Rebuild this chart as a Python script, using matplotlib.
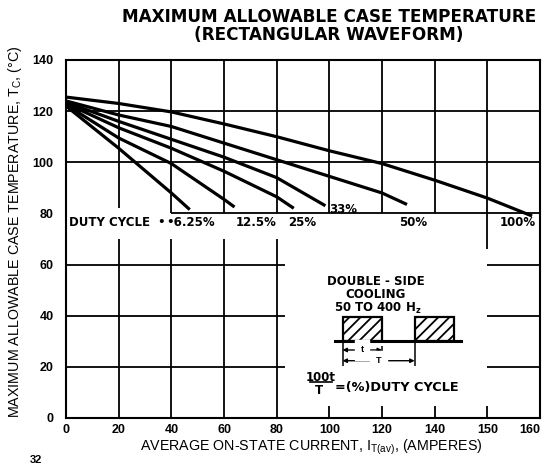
import matplotlib.pyplot as plt
from matplotlib.patches import Rectangle

plt.rcParams['font.family'] = ['Liberation Sans', 'DejaVu Sans']
plt.rcParams['hatch.linewidth'] = 1.3
plt.rcParams['hatch.color'] = 'black'

# x axis ticks as printed on the sheet
x_ticks = [0, 20, 40, 60, 80, 100, 120, 140, 160, 180]
x_labels = ["0", "20", "40", "60", "80", "100", "120", "140", "150", "160"]
y_ticks = [0, 20, 40, 60, 80, 100, 120, 140]

# curves: current (A) vs case temperature (C)
i_625 = [0, 20, 40, 47]
t_625 = [122, 105.5, 88, 81.5]
i_125 = [0, 20, 40, 60, 64]
t_125 = [122.5, 109.5, 99.5, 85.5, 82.5]
i_25 = [0, 20, 40, 60, 80, 86.5]
t_25 = [123, 113.5, 105.5, 96.5, 86.5, 82]
i_33 = [0, 20, 40, 60, 80, 98.5]
t_33 = [123.5, 116, 109, 102, 94, 83]
i_50 = [0, 20, 40, 60, 80, 100, 120, 129.5]
t_50 = [124, 118.5, 114, 107.5, 101, 94.5, 88, 83.5]
i_100 = [0, 20, 40, 60, 80, 100, 120, 140, 160, 177]
t_100 = [125.5, 123, 119.7, 115, 110, 104.5, 99.5, 93, 86, 79]

BOLD = ['DejaVu Sans']

fig = plt.figure(figsize=(5.48, 4.66), dpi=100)
ax = fig.add_axes([66/548, 48/466, 474/548, 358/466])
ax.set_xlim(0, 180)
ax.set_ylim(0, 140)
for s in ax.spines.values():
    s.set_linewidth(1.5)

ax.set_xticks(x_ticks)
ax.set_xticklabels(x_labels, fontweight='bold', fontsize=9)
ax.get_xticklabels()[-1].set_horizontalalignment('right')
ax.set_yticks(y_ticks)
ax.set_yticklabels([str(v) for v in y_ticks], fontweight='bold', fontsize=9)
ax.tick_params(axis='both', length=0)
ax.tick_params(axis='y', pad=9)
ax.tick_params(axis='x', pad=4)

# grid (upper part full, lower part broken by the inset)
gk = dict(color='black', lw=1.3)
ax.hlines([100, 120], 0, 180, **gk)
ax.hlines(80, 40, 180, **gk)
ax.vlines(20, 82, 140, **gk)
ax.vlines([40, 60, 80, 100, 120, 140, 160], 80, 140, **gk)
ax.vlines([20, 40, 60, 80], 0, 70, **gk)
ax.hlines([20, 40, 60], 0, 83, **gk)
ax.hlines([20, 40, 60], 160, 180, **gk)
ax.vlines(160, 66, 80, **gk)
ax.vlines([100, 120, 140, 160], 0, 4.5, **gk)

# duty cycle curves
for xs, ys in [(i_625, t_625), (i_125, t_125), (i_25, t_25),
               (i_33, t_33), (i_50, t_50), (i_100, t_100)]:
    ax.plot(xs, ys, color='black', lw=2.3, solid_capstyle='butt')

lk = dict(fontsize=8.5, fontweight='bold', va='center', family=BOLD)
ax.text(1, 76.5, "DUTY CYCLE", ha='left', **lk)
ax.text(36, 76.5, "\u2022", ha='center', **lk)
ax.text(38, 76.5, "\u20226.25%", ha='left', **lk)
ax.text(64.5, 76.5, "12.5%", ha='left', **lk)
ax.text(84.5, 76.5, "25%", ha='left', **lk)
ax.text(100, 81.6, "33%", ha='left', **lk)
ax.text(126.5, 76.5, "50%", ha='left', **lk)
ax.text(178.5, 76.5, "100%", ha='right', **lk)

# inset: rectangular waveform
ik = dict(fontsize=8.5, fontweight='bold', ha='center', va='center', family=BOLD)
ax.text(117.5, 53.5, "DOUBLE - SIDE", **ik)
ax.text(117.5, 48.2, "COOLING", **ik)
ax.text(118.5, 42.8, r"50 TO 400 H$_\mathregular{z}$", **ik)
ax.plot([102, 150], [30.1, 30.1], color='black', lw=2.2)
for x0 in [105, 132.4]:
    ax.add_patch(Rectangle((x0, 30.1), 15, 9.4, facecolor='white',
                           edgecolor='black', lw=1.6, hatch='///'))
ax.vlines([105, 132.4], 20.5, 30.1, color='black', lw=1.1)
ax.vlines(120, 25, 28, color='black', lw=1.1)
ax.annotate("", xy=(105, 26.6), xytext=(120, 26.6),
            arrowprops=dict(arrowstyle='<|-|>', color='black', lw=1.0,
                            mutation_scale=6, shrinkA=0, shrinkB=0))
ax.annotate("", xy=(105, 22.4), xytext=(132.4, 22.4),
            arrowprops=dict(arrowstyle='<|-|>', color='black', lw=1.0,
                            mutation_scale=6, shrinkA=0, shrinkB=0))
ax.text(112.5, 26.6, "t", fontsize=6.5, fontweight='bold', ha='center',
        va='center', backgroundcolor='white')
ax.text(118.7, 22.4, "T", fontsize=6.5, fontweight='bold', ha='center',
        va='center', backgroundcolor='white')
ax.text(96.8, 15.8, "100t", **ik)
ax.plot([92.5, 101], [13.9, 13.9], color='black', lw=1.2)
ax.text(96.0, 10.6, "T", **ik)
ax.text(102, 12.0, "=(%)DUTY CYCLE", fontsize=9.3, fontweight='bold',
        ha='left', va='center', family=BOLD)

fig.text(329/548, 1 - 17/466, "MAXIMUM ALLOWABLE CASE TEMPERATURE",
         fontsize=12.2, fontweight='bold', ha='center', va='center', family=BOLD)
fig.text(329/548, 1 - 35/466, "(RECTANGULAR WAVEFORM)",
         fontsize=12.2, fontweight='bold', ha='center', va='center', family=BOLD)
fig.text(15/548, 1 - 232/466,
         r"MAXIMUM ALLOWABLE CASE TEMPERATURE, T$_\mathregular{C}$, (°C)",
         rotation=90, fontsize=10.3, ha='center', va='center')
fig.text(311/548, 1 - 447/466,
         r"AVERAGE ON-STATE CURRENT, I$_\mathregular{T(av)}$, (AMPERES)",
         fontsize=10.3, ha='center', va='center')
fig.text(36/548, 1/466, "32", fontsize=8, fontweight='bold',
         ha='center', va='bottom')

fig.savefig("out.png", dpi=100)
